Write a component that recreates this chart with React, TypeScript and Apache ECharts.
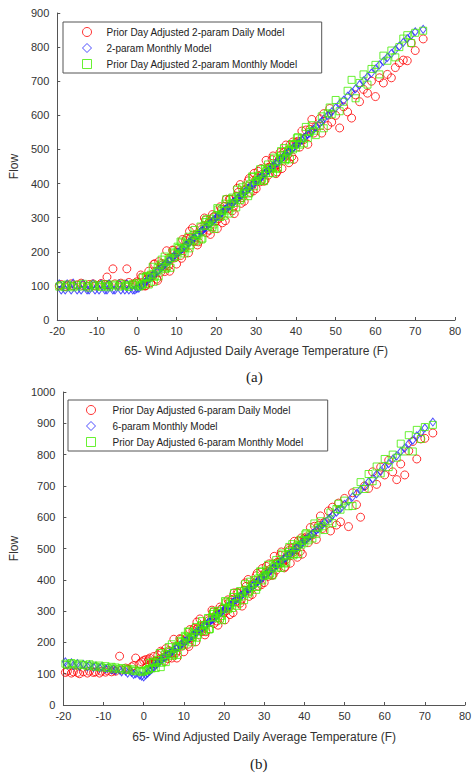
import React, { useEffect, useRef } from "react";
import * as echarts from "echarts";

// Wind adjusted temperature (x) shared by every model, one entry per day
const temp = [
  -19.5, -19, -18, -17.5, -16.5, -16, -15, -14, -13.5, -12.5, -12, -11, -10.5, -9.5, -9, -8, -7.5, -7, -6, -5.5, -4.5, -4, -3, -2.5, -2, -1, -0.5, 0,
  0.5, 1, 1.5, 2, 2.5, 3, 3.5, 4, 4.5, 5,
  5.5, 6, 6.5, 7, 7.5, 8, 8.5, 9, 9.5, 10,
  10.5, 11, 11.5, 12, 12.5, 13, 13.5, 14, 14.5, 15,
  15.5, 16, 16.5, 17, 17.5, 18, 18.5, 19, 19.5, 20,
  20.5, 21, 21.5, 22, 22.5, 23, 23.5, 24, 24.5, 25,
  25.5, 26, 26.5, 27, 27.5, 28, 28.5, 29, 29.5, 30,
  30.5, 31, 31.5, 32, 32.5, 33, 33.5, 34, 34.5, 35,
  35.5, 36, 36.5, 37, 37.5, 38, 38.5, 39, 39.5, 40,
  40.5, 41, 41.5, 42, 42.5, 43, 43.5, 44, 44.5, 45,
  46, 46.5, 47, 48, 48.5, 49, 50, 51, 52, 53,
  54, 55, 56, 57, 58, 59, 60, 61, 62, 63,
  64, 65, 66, 67, 68, 69, 70, 72,
  // additional days
  1.25, 2.25, 3.25, 4.25, 5.25, 6.25, 7.25, 8.25, 9.25, 10.25,
  11.25, 12.25, 13.25, 14.25, 15.25, 16.25, 17.25, 18.25, 19.25, 20.25,
  21.25, 22.25, 23.25, 24.25, 25.25, 26.25, 27.25, 28.25, 29.25, 30.25,
  31.25, 32.25, 33.25, 34.25, 35.25, 36.25, 37.25, 38.25, 39.25, 40.25,
];

// Chart (a) flows
const redA = [
  100, 104, 98, 102, 106, 100, 103, 108, 101, 99, 104, 106, 100, 102, 107, 104, 126, 103, 150, 106, 102, 108, 105, 150, 110, 104, 108, 112,
  109, 132, 100, 100, 119, 143, 109, 129, 165, 120,
  171, 140, 162, 142, 203, 159, 181, 205, 182, 164,
  206, 189, 236, 211, 239, 197, 241, 270, 230, 248,
  229, 271, 260, 299, 256, 284, 251, 309, 303, 291,
  297, 332, 285, 333, 354, 327, 354, 320, 312, 362,
  374, 397, 359, 348, 384, 408, 374, 394, 430, 385,
  436, 405, 427, 407, 468, 424, 446, 470, 447, 429,
  456, 491, 444, 492, 513, 486, 513, 479, 471, 521,
  524, 507, 554, 529, 557, 515, 559, 588, 548, 566,
  590, 548, 605, 570, 620, 580, 600, 563, 625, 610,
  592, 660, 640, 676, 665, 700, 655, 710, 695, 720,
  710, 740, 754, 762, 760, 812, 790, 824,
  126, 100, 130, 163, 116, 166, 160, 143, 204, 199,
  181, 233, 260, 231, 220, 265, 293, 263, 302, 268,
  325, 291, 354, 331, 386, 342, 380, 415, 378, 417,
  444, 410, 448, 481, 434, 484, 478, 461, 522, 517,
];
const blueA = [
  106, 88, 88, 106, 88, 108, 88, 88, 106, 88, 88, 106, 88, 88, 106, 88, 88, 106, 88, 88, 106, 88, 88, 106, 88, 88, 88, 92,
  93, 100, 103, 110, 114, 121, 124, 131, 135, 142,
  145, 153, 156, 163, 167, 174, 177, 184, 188, 195,
  198, 206, 209, 216, 220, 227, 230, 237, 241, 248,
  251, 259, 262, 269, 273, 280, 283, 290, 294, 301,
  304, 312, 315, 322, 326, 333, 336, 343, 347, 354,
  357, 365, 368, 375, 379, 386, 389, 396, 400, 407,
  410, 418, 421, 428, 432, 439, 442, 449, 453, 460,
  463, 471, 474, 481, 485, 492, 495, 502, 506, 513,
  516, 524, 527, 534, 538, 545, 548, 555, 559, 566,
  577, 582, 589, 600, 604, 610, 622, 634, 644, 656,
  667, 678, 690, 701, 713, 724, 736, 748, 758, 770,
  781, 792, 803, 814, 825, 835, 845, 852,
  101, 113, 122, 134, 144, 155, 165, 176, 186, 198,
  207, 219, 228, 240, 250, 261, 271, 282, 292, 304,
  313, 325, 334, 346, 356, 367, 377, 388, 398, 410,
  419, 431, 440, 452, 462, 473, 483, 494, 504, 516,
];
const greenA = [
  98, 102, 96, 104, 100, 96, 103, 98, 106, 100, 95, 104, 99, 102, 97, 105, 100, 96, 104, 101, 98, 106, 100, 103, 97, 105, 102, 108,
  98, 100, 124, 106, 129, 104, 133, 156, 127, 142,
  128, 162, 155, 186, 154, 177, 153, 198, 195, 187,
  211, 230, 202, 195, 224, 244, 219, 235, 264, 231,
  246, 274, 239, 277, 295, 275, 297, 272, 267, 307,
  324, 302, 320, 306, 354, 321, 339, 359, 343, 330,
  363, 352, 389, 371, 394, 363, 398, 421, 392, 407,
  423, 442, 414, 407, 436, 456, 431, 447, 476, 443,
  446, 480, 473, 504, 472, 495, 471, 516, 513, 505,
  536, 514, 532, 518, 566, 533, 551, 571, 555, 542,
  570, 597, 562, 606, 623, 603, 645, 612, 640, 672,
  704, 650, 695, 720, 690, 736, 748, 720, 775, 760,
  790, 770, 800, 825, 835, 812, 842, 848,
  104, 126, 125, 112, 153, 177, 150, 181, 182, 215,
  227, 212, 210, 250, 252, 236, 287, 289, 280, 328,
  310, 341, 312, 355, 382, 357, 382, 371, 419, 408,
  409, 444, 443, 430, 471, 495, 468, 499, 500, 533,
];

// Chart (b) flows
const redB = [
  104, 108, 102, 106, 104, 100, 106, 102, 108, 104, 106, 102, 108, 105, 110, 106, 112, 108, 156, 112, 118, 114, 122, 126, 150, 132, 138, 142,
  145, 138, 150, 135, 155, 140, 160, 145, 168, 152,
  180, 148, 170, 150, 210, 166, 188, 212, 188, 170,
  212, 194, 241, 216, 244, 202, 246, 275, 234, 253,
  234, 275, 264, 303, 260, 288, 255, 313, 307, 295,
  301, 336, 289, 337, 358, 331, 358, 325, 316, 367,
  379, 401, 364, 353, 389, 413, 380, 400, 436, 391,
  443, 411, 434, 414, 475, 431, 454, 478, 455, 438,
  465, 500, 453, 502, 523, 496, 524, 491, 482, 533,
  537, 519, 567, 543, 571, 529, 574, 604, 564, 583,
  620, 556, 632, 575, 645, 585, 660, 570, 678, 640,
  600, 700, 692, 745, 705, 760, 735, 782, 745, 720,
  770, 735, 812, 842, 786, 850, 852, 869,
  145, 132, 140, 172, 140, 174, 167, 150, 210, 205,
  187, 238, 265, 236, 224, 270, 297, 268, 306, 272,
  329, 295, 359, 335, 390, 347, 385, 421, 384, 423,
  451, 417, 456, 489, 442, 494, 488, 472, 534, 529,
];
const blueB = [
  138, 128, 135, 126, 132, 124, 130, 122, 128, 120, 124, 118, 122, 115, 118, 112, 115, 110, 112, 106, 108, 102, 104, 98, 100, 95, 92, 90,
  96, 102, 108, 114, 120, 127, 133, 139, 144, 150,
  155, 161, 165, 171, 175, 181, 185, 191, 195, 201,
  204, 211, 214, 221, 225, 232, 235, 242, 245, 253,
  256, 263, 266, 273, 277, 284, 287, 294, 298, 305,
  308, 316, 319, 326, 330, 337, 340, 348, 351, 359,
  362, 369, 373, 380, 384, 391, 395, 402, 406, 413,
  417, 424, 428, 435, 439, 446, 450, 457, 461, 469,
  472, 480, 483, 491, 495, 502, 506, 514, 517, 525,
  529, 536, 540, 548, 552, 559, 563, 571, 575, 583,
  594, 598, 606, 616, 623, 627, 641, 651, 665, 675,
  688, 699, 713, 723, 737, 747, 761, 771, 785, 796,
  810, 821, 835, 846, 860, 870, 885, 904,
  112, 123, 132, 143, 152, 163, 172, 183, 192, 204,
  213, 224, 233, 245, 254, 266, 275, 287, 296, 308,
  317, 329, 339, 350, 360, 372, 382, 394, 404, 416,
  426, 438, 448, 460, 470, 483, 493, 505, 516, 528,
];
const greenB = [
  132, 128, 134, 130, 126, 132, 128, 124, 130, 126, 122, 126, 120, 124, 118, 122, 116, 120, 114, 118, 112, 116, 110, 114, 108, 110, 105, 108,
  110, 112, 135, 117, 139, 118, 143, 166, 135, 151,
  137, 170, 163, 194, 161, 184, 160, 205, 201, 193,
  217, 235, 207, 200, 229, 249, 224, 240, 268, 236,
  251, 278, 243, 281, 299, 279, 301, 276, 271, 311,
  328, 306, 324, 310, 358, 325, 343, 364, 347, 335,
  368, 356, 394, 376, 399, 368, 404, 427, 398, 413,
  430, 448, 421, 414, 443, 463, 439, 455, 484, 452,
  455, 489, 482, 514, 482, 505, 482, 528, 524, 517,
  549, 526, 545, 532, 580, 547, 566, 587, 571, 559,
  587, 615, 581, 626, 643, 624, 653, 635, 636, 683,
  712, 690, 738, 715, 762, 740, 786, 760, 800, 790,
  835, 810, 862, 810, 879, 850, 888, 895,
  115, 136, 135, 121, 161, 185, 157, 188, 188, 221,
  233, 217, 215, 255, 256, 241, 291, 294, 284, 332,
  314, 345, 317, 359, 386, 362, 387, 377, 425, 414,
  416, 451, 451, 438, 479, 505, 478, 510, 512, 545,
];

const namesA = [
  "Prior Day Adjusted 2-param Daily Model",
  "2-param Monthly Model",
  "Prior Day Adjusted 2-param Monthly Model",
];
const namesB = [
  "Prior Day Adjusted 6-param Daily Model",
  "6-param Monthly Model",
  "Prior Day Adjusted 6-param Monthly Model",
];
const xTitle = "65- Wind Adjusted Daily Average Temperature (F)";
const yTitle = "Flow";

const RED = "#ff0000";
const BLUE = "#2222ff";
const GREEN = "#44ee00";
const FONT = "'Liberation Sans', Arial, sans-serif";

const pairs = (ys: number[]) => temp.map((t, i) => [t, ys[i]]);

const symbols = [
  { symbol: "circle", size: 8, color: RED },
  { symbol: "diamond", size: [6, 8], color: BLUE },
  { symbol: "rect", size: 7, color: GREEN },
];

export default function App() {
  const ref = useRef<HTMLDivElement>(null);
  useEffect(() => {
    if (!ref.current) return;
    const chart = echarts.init(ref.current, null, { renderer: "svg" });

    const xAxisBase = (gi: number, gap: number) => ({
      gridIndex: gi,
      type: "value",
      min: -20,
      max: 80,
      interval: 10,
      name: xTitle,
      nameLocation: "middle",
      nameGap: gap,
      nameTextStyle: { fontFamily: FONT, fontSize: 12, color: "#333" },
      axisLine: { show: true, onZero: false, lineStyle: { color: "#555" } },
      axisTick: { show: true, inside: true, length: 3, lineStyle: { color: "#555" } },
      axisLabel: { color: "#333", fontFamily: FONT, fontSize: 11, margin: 5 },
      splitLine: { show: false },
    });
    const yAxisBase = (gi: number, max: number) => ({
      gridIndex: gi,
      type: "value",
      min: 0,
      max,
      interval: 100,
      name: yTitle,
      nameLocation: "middle",
      nameGap: 32,
      nameTextStyle: { fontFamily: FONT, fontSize: 12, color: "#333" },
      axisLine: { show: true, onZero: false, lineStyle: { color: "#555" } },
      axisTick: { show: true, inside: true, length: 3, lineStyle: { color: "#555" } },
      axisLabel: {
        color: "#333",
        fontFamily: FONT,
        fontSize: 11,
        margin: 8,
        formatter: (v: number) => String(v),
      },
      splitLine: { show: false },
    });

    const mkSeries = (names: string[], data: number[][], gi: number) =>
      names.map((n, k) => ({
        type: "scatter",
        name: n,
        xAxisIndex: gi,
        yAxisIndex: gi,
        data: pairs(data[k]),
        symbol: symbols[k].symbol,
        symbolSize: symbols[k].size,
        itemStyle: { color: "transparent", borderColor: symbols[k].color, borderWidth: 1 },
        emphasis: { disabled: true },
      }));

    const mkLegend = (names: string[], left: number, top: number, padLeft: number, textPad: number) => ({
      orient: "vertical",
      left,
      top,
      padding: [5, 24, 4, padLeft],
      itemWidth: 9,
      itemHeight: 9,
      itemGap: 6,
      borderColor: "#555",
      borderWidth: 1,
      backgroundColor: "#fff",
      selectedMode: false,
      textStyle: { fontFamily: FONT, fontSize: 10, color: "#222", padding: [0, 0, 0, textPad] },
      data: names.map((n, k) => ({
        name: n,
        icon: symbols[k].symbol,
        itemStyle: { color: "transparent", borderColor: symbols[k].color, borderWidth: 1 },
      })),
    });

    chart.setOption({
      animation: false,
      grid: [
        { left: 57, right: 20, top: 13, bottom: 460 },
        { left: 58, right: 10, top: 392, bottom: 75 },
      ],
      xAxis: [xAxisBase(0, 25), xAxisBase(1, 26)],
      yAxis: [yAxisBase(0, 900), yAxisBase(1, 1000)],
      legend: [mkLegend(namesA, 63, 22, 19, 10), mkLegend(namesB, 68, 400, 18, 12)],
      series: [
        ...mkSeries(namesA, [redA, blueA, greenA], 0),
        ...mkSeries(namesB, [redB, blueB, greenB], 1),
      ],
      graphic: [
        {
          type: "text",
          left: 246,
          top: 369,
          style: { text: "(a)", font: "15px 'Liberation Serif', 'DejaVu Serif', serif", fill: "#222" },
        },
        {
          type: "text",
          left: 250,
          top: 756,
          style: { text: "(b)", font: "15px 'Liberation Serif', 'DejaVu Serif', serif", fill: "#222" },
        },
      ],
    });
    return () => chart.dispose();
  }, []);
  return (
    <div
      ref={ref}
      style={{ position: "absolute", left: 0, top: 0, width: 475, height: 780, background: "#fff" }}
    />
  );
}
